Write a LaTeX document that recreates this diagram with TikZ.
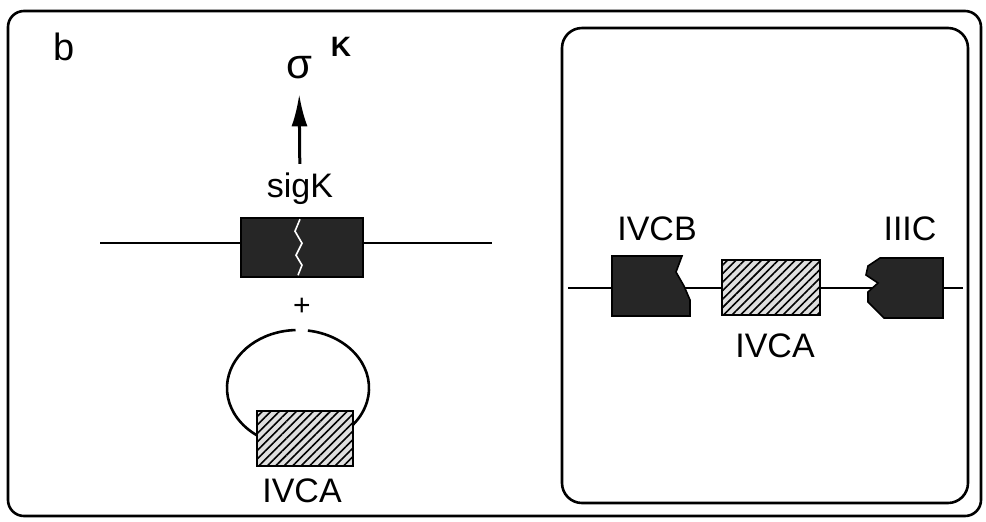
\documentclass[tikz,border=0pt]{standalone}
\usepackage{fontspec}
\setmainfont{Liberation Sans}
\usetikzlibrary{positioning,arrows.meta,patterns.meta}

\begin{document}
\begin{tikzpicture}[x=0.5pt,y=-0.5pt]
    \tikzstyle{frame} = [line width=1.3pt, rounded corners=8pt]
    \tikzstyle{genelabel} = [font=\fontsize{17}{20}\selectfont, anchor=base, inner sep=0pt]
    \tikzstyle{darkgene} = [rectangle, draw=black, line width=0.8pt, fill=black!85, inner sep=0pt]
    \tikzstyle{darkfill} = [draw=black, line width=0.8pt, fill=black!85]
    \tikzstyle{hatched} = [rectangle, draw=black, line width=1.1pt, fill=gray!25, inner sep=0pt,
        postaction={pattern={Lines[angle=45,distance=3pt,line width=0.8pt]}}]
    \tikzstyle{dna} = [line width=1.3pt]

    \useasboundingbox (0,0) rectangle (986,521);
    \draw[frame] (8,11) rectangle (981,516);
    \draw[frame, rounded corners=10pt] (562,28) rectangle (968,503);

    \node[genelabel, font=\fontsize{19}{20}\selectfont] (panel) at (64,60) {b};

    % chromosome with sigK
    \coordinate (chromleft) at (100,243);
    \coordinate (chromright) at (492,243);
    \node[darkgene, minimum width=61pt, minimum height=29.5pt] (sigkbox) at (302,247.5) {};
    \draw[dna] (chromleft) -- (chromleft -| sigkbox.west);
    \draw[dna] (chromright -| sigkbox.east) -- (chromright);
    \draw[white, line width=0.8pt] (sigkbox.north) ++(-2,2) -- ++(-5,12) -- ++(7,12)
        -- ++(-6,12) -- ++(6,10) -- ++(-4,10);

    \node[genelabel] (siglabel) at (300,197) {sigK};
    \node[font=\fontsize{21}{21}\selectfont] (sigma) at (299,68) {σ};
    \node[font=\bfseries\fontsize{14}{14}\selectfont] (kappa) at (341,47) {K};
    \draw[-{Latex[length=16pt,width=8pt]}, line width=1.5pt, shorten <=4pt, shorten >=4pt]
        (siglabel) -- (sigma);

    \node[font=\fontsize{15}{15}\selectfont] (plus) at (302,307) {+};

    % plasmid
    \draw[dna] (298,388) ++(-82:71 and 58) arc[start angle=-82, end angle=268, x radius=71, y radius=58];
    \node[hatched, minimum width=48pt, minimum height=27.5pt] (plasmidgene) at (305,438.5) {};
    \node[genelabel] (ivcaleft) at (302,502) {IVCA};

    % right panel
    \coordinate (mapleft) at (568,288);
    \coordinate (mapright) at (963,288);
    \draw[dna] (mapleft) -- (mapright);
    \filldraw[darkfill] (612,256) -- (682,256) -- (676,272) -- (684,286) -- (690,300)
        -- (690,316) -- (612,316) -- cycle;
    \node[hatched, minimum width=49pt, minimum height=27.5pt] (ivcagene) at (771,287.5) {};
    \filldraw[darkfill] (880,258) -- (943,258) -- (943,318) -- (884,318) -- (868,302)
        -- (868,292) -- (878,283) -- (866,275) -- (868,266) -- cycle;

    \node[genelabel] (ivcb) at (657,240) {IVCB};
    \node[genelabel] (iiic) at (910,240) {IIIC};
    \node[genelabel] (ivcaright) at (775,357) {IVCA};

\end{tikzpicture}
\end{document}
